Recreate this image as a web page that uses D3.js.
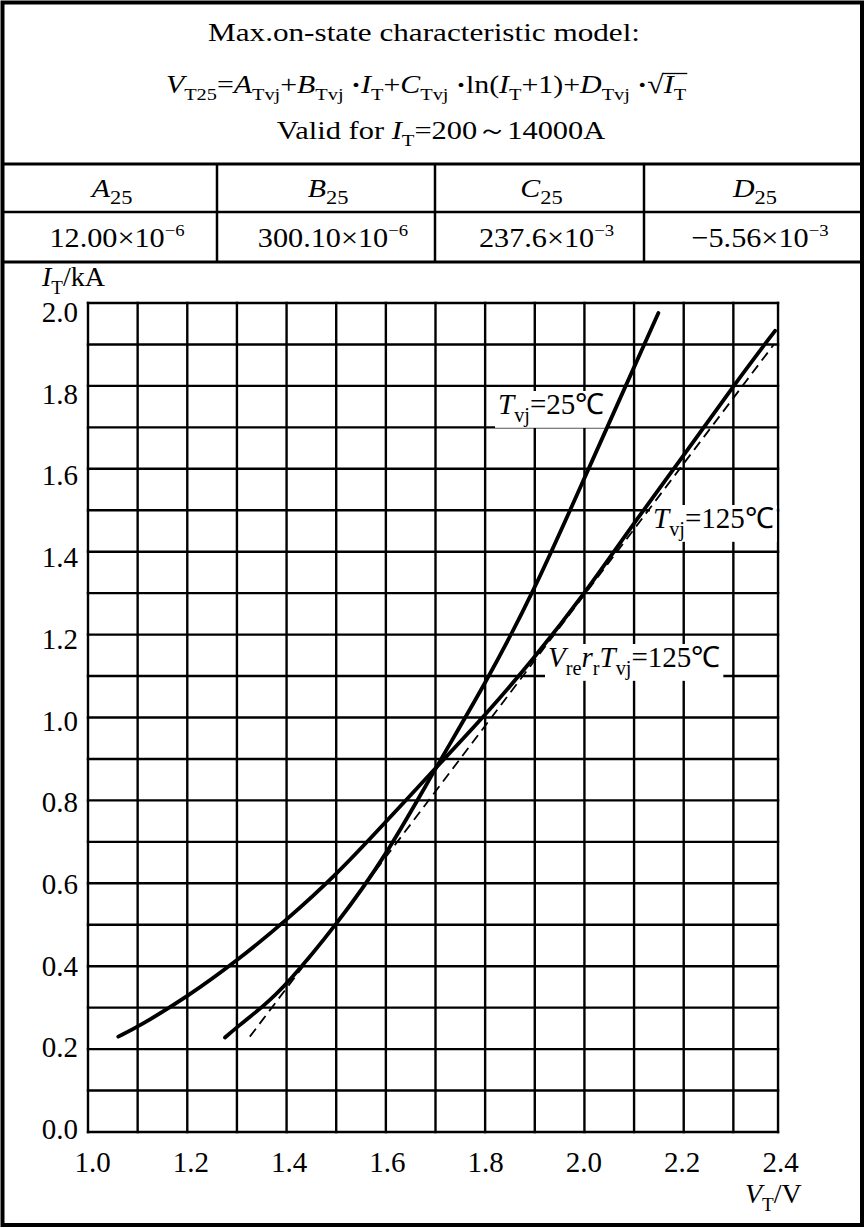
<!DOCTYPE html>
<html><head><meta charset="utf-8">
<script src="https://cdn.jsdelivr.net/npm/d3@7"></script>
<style>
body{margin:0;background:#fff}
svg{display:block}
text{font-family:"Liberation Serif","Times New Roman",serif;fill:#000}
</style>
</head><body>
<svg id="c" width="865" height="1228"></svg>
<script>
// ---------- data ----------
const xTickValues = [1.0, 1.2, 1.4, 1.6, 1.8, 2.0, 2.2, 2.4];
const yTickValues = [0.0, 0.2, 0.4, 0.6, 0.8, 1.0, 1.2, 1.4, 1.6, 1.8, 2.0];
const xGridValues = [1.1, 1.2, 1.3, 1.4, 1.5, 1.6, 1.7, 1.8, 1.9, 2.0, 2.1, 2.2, 2.3];
const yGridValues = [0.1, 0.2, 0.3, 0.4, 0.5, 0.6, 0.7, 0.8, 0.9, 1.0, 1.1, 1.2, 1.3, 1.4, 1.5, 1.6, 1.7, 1.8, 1.9];
const frameV = [1.0, 2.39];
const frameI = [0.0, 2.0];

// Tvj = 25 °C  (V in volts, I in kA)
const v25 = [1.276, 1.30, 1.35, 1.40, 1.50, 1.60, 1.70, 1.80, 1.90, 2.00, 2.10, 2.149];
const i25 = [0.228, 0.253, 0.300, 0.355, 0.499, 0.665, 0.878, 1.080, 1.308, 1.578, 1.845, 1.976];
// Tvj = 125 °C
const v125 = [1.061, 1.10, 1.20, 1.30, 1.40, 1.50, 1.60, 1.70, 1.80, 1.90, 2.00, 2.10, 2.20, 2.30, 2.384];
const i125 = [0.230, 0.253, 0.326, 0.413, 0.511, 0.620, 0.748, 0.878, 1.005, 1.145, 1.298, 1.470, 1.632, 1.800, 1.933];
// linear model (threshold voltage + slope resistance), Tvj = 125 °C
const vLin = [1.326, 2.381];
const iLin = [0.230, 1.899];

const coefNames = ["A", "B", "C", "D"];
const coefMant = ["12.00", "300.10", "237.6", "\u22125.56"];
const coefExp = ["\u22126", "\u22126", "\u22123", "\u22123"];

// ---------- layout ----------
const svg = d3.select("#c");
const W = 865, H = 1228;
const serif = '"Liberation Serif","Times New Roman",serif';

const x = d3.scaleLinear().domain([1.0, 2.4]).range([88, 783]);
const y = d3.scaleLinear().domain([0.0, 2.0]).range([1132, 303]);
// tick-label placement scales (labels in the scan sit slightly off the grid lines)
const xLab = d3.scaleLinear().domain([1.0, 2.4]).range([92, 780]);
const yLab = d3.scaleLinear().domain([0.0, 2.0]).range([1129, 312]);

// rich text helper (italic / bold / subscript / superscript runs)
function rich(sel, parts, size, subRatio) {
  const sr = subRatio || 0.68;
  let cur = 0;
  parts.forEach(p => {
    const t = typeof p === "string" ? {t: p} : p;
    let target = 0, fs = size;
    if (t.sub) { target = 0.27 * size; fs = sr * size; }
    if (t.sup) { target = -0.40 * size; fs = 0.62 * size; }
    sel.append("tspan").text(t.t)
      .attr("dy", (target - cur).toFixed(2))
      .style("font-size", fs + "px")
      .style("font-style", t.i ? "italic" : "normal")
      .style("font-weight", t.b ? "bold" : "normal");
    cur = target;
  });
  return sel;
}
// centred, horizontally stretched text block
function block(cx, by, sx, size, parts, subRatio) {
  const g = svg.append("g").attr("transform", `translate(${cx},${by}) scale(${sx},1)`);
  const t = g.append("text").attr("x", 0).attr("y", 0).attr("text-anchor", "middle").style("font-size", size + "px");
  rich(t, parts, size, subRatio);
  return {g, t};
}

// ---------- outer frame & table ----------
const g0 = svg.append("g");
g0.append("rect").attr("x", 2.5).attr("y", 2.5).attr("width", W - 5.5).attr("height", H - 5.5)
  .attr("fill", "none").attr("stroke", "#000").attr("stroke-width", 4);
[164, 212, 262].forEach(yy => g0.append("line").attr("x1", 2).attr("x2", W - 2).attr("y1", yy).attr("y2", yy)
  .attr("stroke", "#000").attr("stroke-width", yy === 212 ? 2.5 : 3));
const colEdges = [3, 217, 435, 644, 862];
[217, 435, 644].forEach(xx => g0.append("line").attr("x1", xx).attr("x2", xx).attr("y1", 164).attr("y2", 262)
  .attr("stroke", "#000").attr("stroke-width", 2.5));

// header text
block(424, 41, 1.2, 26, ["Max.on-state characteristic model:"]);

const DOT = {t: "\u00b7", b: 1};
const F = block(426, 93, 1.15, 26, [
  {t: "V", i: 1}, {t: "T25", sub: 1}, "=", {t: "A", i: 1}, {t: "Tvj", sub: 1}, "+",
  {t: "B", i: 1}, {t: "Tvj", sub: 1}, " ", DOT, {t: "I", i: 1}, {t: "T", sub: 1}, "+",
  {t: "C", i: 1}, {t: "Tvj", sub: 1}, " ", DOT, "ln(", {t: "I", i: 1}, {t: "T", sub: 1}, "+1)+",
  {t: "D", i: 1}, {t: "Tvj", sub: 1}, " ", DOT, "\u221a", {t: "I", i: 1}, {t: "T", sub: 1}
]);
// overline of the square root
(function () {
  const n = F.t.node();
  const full = n.textContent;
  const k = full.indexOf("\u221a");
  const sx = n.getEndPositionOfChar(k).x - 1;
  const ex = n.getEndPositionOfChar(full.length - 1).x + 1;
  F.g.append("line").attr("x1", sx).attr("x2", ex).attr("y1", -19.5).attr("y2", -19.5)
    .attr("stroke", "#000").attr("stroke-width", 1.3);
})();

block(441, 139, 1.17, 26, ["Valid for ", {t: "I", i: 1}, {t: "T", sub: 1}, "=200\uff5e14000A"]);

coefNames.forEach((c, k) => {
  const cx = (colEdges[k] + colEdges[k + 1]) / 2 + 2;
  block(cx, 197, 1.15, 26, [{t: c, i: 1}, {t: "25", sub: 1}], 0.75);
  block(cx + 5, 247, 1.08, 28, [coefMant[k] + "\u00d710", {t: coefExp[k], sup: 1}]);
});

// ---------- plot grid ----------
const gg = svg.append("g").attr("stroke", "#000").attr("stroke-width", 2.4);
xGridValues.concat(frameV).forEach(v => gg.append("line")
  .attr("x1", x(v)).attr("x2", x(v)).attr("y1", y(frameI[0]) + 1.2).attr("y2", y(frameI[1]) - 1.2));
yGridValues.concat(frameI).forEach(v => gg.append("line")
  .attr("x1", x(frameV[0]) - 1.2).attr("x2", x(frameV[1]) + 1.2).attr("y1", y(v)).attr("y2", y(v)));

// axes (tick labels only)
const ax = svg.append("g").attr("transform", `translate(0,${y(0)})`)
  .call(d3.axisBottom(xLab).tickValues(xTickValues).tickSize(0).tickPadding(0).tickFormat(d3.format(".1f")));
ax.attr("font-family", null).attr("font-size", null);
ax.select(".domain").remove();
ax.selectAll("text").attr("y", 40).attr("dy", 0)
  .style("font-size", "29px").style("font-family", serif);

const ay = svg.append("g").attr("transform", `translate(${x(1.0)},0)`)
  .call(d3.axisLeft(yLab).tickValues(yTickValues).tickSize(0).tickPadding(10).tickFormat(d3.format(".1f")));
ay.attr("font-family", null).attr("font-size", null);
ay.select(".domain").remove();
ay.selectAll("text").attr("dy", "0.33em").style("font-size", "29px").style("font-family", serif);

const yt = svg.append("text").attr("x", 42).attr("y", 286).style("font-size", "28px");
rich(yt, [{t: "I", i: 1}, {t: "T", sub: 1}, "/kA"], 28);
const xt = svg.append("text").attr("x", 745).attr("y", 1203).style("font-size", "28px");
rich(xt, [{t: "V", i: 1}, {t: "T", sub: 1}, "/V"], 28);

// ---------- curves ----------
const line = d3.line().x(d => x(d[0])).y(d => y(d[1])).curve(d3.curveBasis);
const zip = (a, b) => a.map((v, k) => [v, b[k]]);

// curve labels with white background (drawn before the curves)
function label(parts, xx, yy) {
  const g = svg.append("g");
  const r = g.append("rect").attr("fill", "#fff");
  const t = g.append("text").attr("x", xx).attr("y", yy).style("font-size", "29px");
  rich(t, parts, 29, 0.7);
  const b = t.node().getBBox();
  r.attr("x", b.x - 3).attr("y", b.y + 3).attr("width", b.width + 6).attr("height", b.height - 2);
}
label([{t: "T", i: 1}, {t: "vj", sub: 1}, "=25\u2103"], 498, 414);
label([{t: "T", i: 1}, {t: "vj", sub: 1}, "=125\u2103"], 653, 528);
label([{t: "V", i: 1}, {t: "re", sub: 1}, {t: "r", i: 1}, {t: "r", sub: 1}, {t: "T", i: 1}, {t: "vj", sub: 1}, "=125\u2103"], 548, 667);

svg.append("path").datum(zip(vLin, iLin)).attr("d", d3.line().x(d => x(d[0])).y(d => y(d[1])))
  .attr("fill", "none").attr("stroke", "#000").attr("stroke-width", 1.8).attr("stroke-dasharray", "10,6");
svg.append("path").datum(zip(v125, i125)).attr("d", line).attr("fill", "none")
  .attr("stroke", "#000").attr("stroke-width", 3.8).attr("stroke-linecap", "round");
svg.append("path").datum(zip(v25, i25)).attr("d", line).attr("fill", "none")
  .attr("stroke", "#000").attr("stroke-width", 3.8).attr("stroke-linecap", "round");
</script>
</body></html>
